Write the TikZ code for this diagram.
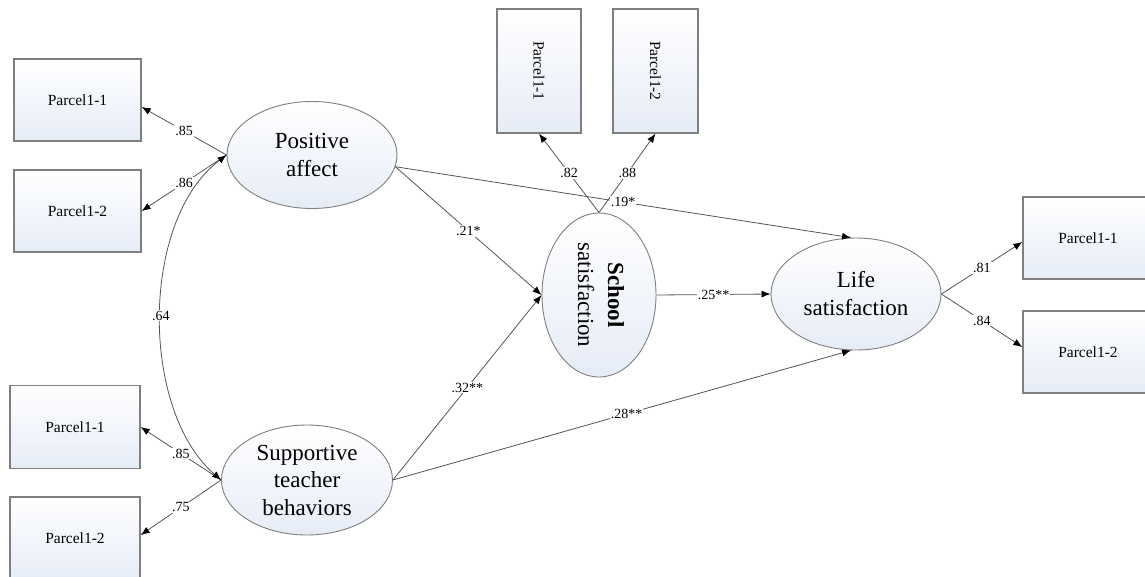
\documentclass[tikz,border=0pt]{standalone}
\usepackage{fontspec}
\setmainfont{Liberation Serif}
\usepackage{graphicx}
\usetikzlibrary{shapes.geometric,arrows.meta}
\definecolor{boxline}{HTML}{7F7F7F}
\definecolor{shadeblue}{HTML}{E6ECF7}
\definecolor{edgecol}{HTML}{555555}
\tikzset{
  tip/.tip={Latex[length=9pt,width=7pt,color=black]},
  obs/.style={draw=boxline, line width=1.3pt, top color=white, bottom color=shadeblue,
    minimum width=127pt, minimum height=82pt, inner sep=0pt, font=\fontsize{15.5}{18}\selectfont},
  lat/.style={ellipse, draw=boxline, line width=0.9pt, top color=white, bottom color=shadeblue,
    inner sep=0pt, align=center, font=\fontsize{23}{28}\selectfont},
  sem/.style={draw=edgecol, line width=0.8pt, -tip},
  semboth/.style={draw=edgecol, line width=0.8pt, tip-tip},
  lbl/.style={fill=white, inner sep=1pt, font=\fontsize{14}{16}\selectfont, text=black},
}
\begin{document}
\begin{tikzpicture}[x=1pt,y=-1pt]
\useasboundingbox[fill=white] (0,0) rectangle (1145,576);
% observed boxes
\node[obs] (L1) at (77.5,100) {Parcel1-1};
\node[obs] (L2) at (77.5,211) {Parcel1-2};
\node[obs, minimum width=130pt, minimum height=83pt] (L3) at (75,427) {Parcel1-1};
\node[obs, minimum width=130pt] (L4) at (75,538) {Parcel1-2};
\node[obs, minimum width=84pt, minimum height=124pt] (T1) at (539,71) {\rotatebox{-90}{Parcel1-1}};
\node[obs, minimum width=85pt, minimum height=124pt] (T2) at (655.5,71) {\rotatebox{-90}{Parcel1-2}};
\node[obs, minimum width=130pt] (R1) at (1088,238) {Parcel1-1};
\node[obs, minimum width=130pt] (R2) at (1088,352) {Parcel1-2};
% latent ellipses
\node[lat, minimum width=170pt, minimum height=107pt] (PA) at (312,155) {Positive\\affect};
\node[lat, minimum width=171pt, minimum height=110pt, inner ysep=-4pt, font=\fontsize{23}{27.5}\selectfont] (ST) at (307,480) {Supportive\\teacher\\behaviors};
\node[lat, minimum width=114pt, minimum height=164pt] (SS) at (599,295)
  {\rotatebox{-90}{\fontsize{23}{30}\selectfont\begin{tabular}{@{}c@{}}\textbf{School}\\satisfaction\end{tabular}}};
\node[lat, minimum width=170pt, minimum height=112pt] (LS) at (856,294) {Life\\satisfaction};
% loadings
\draw[sem] (PA.west) -- node[lbl]{.85} ([yshift=-7pt]L1.east);
\draw[sem] (PA.west) -- node[lbl]{.86} (L2.east);
\draw[sem] (ST.west) -- node[lbl]{.85} (L3.east);
\draw[sem] (ST.west) -- node[lbl]{.75} ([yshift=3pt]L4.east);
\draw[sem] (SS.north) -- node[lbl]{.82} (T1.south);
\draw[sem] (SS.north) -- node[lbl]{.88} (T2.south);
\draw[sem] (LS.east) -- node[lbl]{.81} ([yshift=-4pt]R1.west);
\draw[sem] (LS.east) -- node[lbl]{.84} ([yshift=5pt]R2.west);
% structural paths
\draw[sem] (PA.-8) -- node[lbl]{.19*} (LS.95);
\draw[sem] (PA.-8) -- node[lbl]{.21*} (SS.west);
\draw[sem] (ST.east) -- node[lbl]{.32**} (SS.west);
\draw[sem] (ST.east) -- node[lbl,pos=0.51]{.28**} (LS.265);
\draw[sem] (SS.east) -- node[lbl]{.25**} (LS.west);
% correlation
\draw[semboth] (PA.west) .. controls (140,220) and (140,410) .. node[lbl]{.64} (ST.west);
\end{tikzpicture}
\end{document}
